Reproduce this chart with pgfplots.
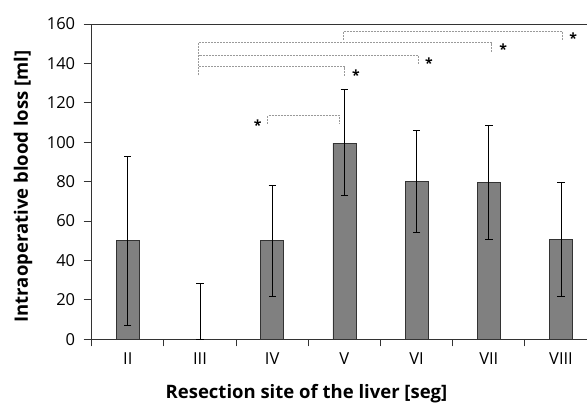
\documentclass[border=0pt]{standalone}
\usepackage{fontspec}
\setmainfont{Open Sans}
\usepackage{pgfplots}
\pgfplotsset{compat=1.18}
\definecolor{barfill}{HTML}{808080}
\definecolor{bardraw}{HTML}{333333}
\definecolor{brk}{HTML}{9A9A9A}

\begin{document}
\begin{tikzpicture}
\useasboundingbox (-91.7pt,-63.7pt) rectangle (495.3pt,339.3pt);
\begin{axis}[
  scale only axis, width=495.3pt, height=315.3pt,
  xmin=-0.5, xmax=6.36, ymin=0, ymax=160,
  axis lines*=left, clip=false,
  axis line style={bardraw, line width=0.9pt},
  ytick={0,20,...,160},
  xtick={0,...,6},
  xticklabels={II,III,IV,V,VI,VII,VIII},
  minor xtick={-0.5,0.5,...,5.5},
  tick align=outside,
  major x tick style={draw=none},
  major tick length=8pt, minor tick length=7pt,
  every tick/.style={bardraw, line width=0.9pt},
  ticklabel style={font=\fontsize{16.5}{19}\selectfont},
  yticklabel style={xshift=-5pt},
  xticklabel style={yshift=-2pt},
  /pgf/number format/assume math mode=true,
  xlabel={Resection site of the liver [seg]},
  ylabel={Intraoperative blood loss [ml]},
  label style={font=\fontsize{18.5}{22}\selectfont\bfseries},
  xlabel style={at={([yshift=-59.7pt]rel axis cs:0.4337,0)}, anchor=base},
  ylabel style={at={([xshift=-63.7pt]rel axis cs:0,0.4846)}, anchor=base},
]
  \addplot[ybar, bar width=23pt, fill=barfill, draw=bardraw, line width=0.8pt,
    error bars/.cd, y dir=both, y explicit,
    error bar style={black, line width=0.8pt},
    error mark options={rotate=90, mark size=3.7pt, line width=0.8pt}]
  coordinates {
    (0,50.3) += (0,42.6) -= (0,43.4)
    (1,0)    += (0,28.2) -= (0,0)
    (2,50.3) += (0,27.6) -= (0,28.3)
    (3,99.5) += (0,27.1) -= (0,26.4)
    (4,80.0) += (0,26.0) -= (0,25.9)
    (5,79.7) += (0,29.0) -= (0,28.9)
    (6,50.8) += (0,28.9) -= (0,28.8)
  };
  % top frame line
  \draw[bardraw, line width=0.9pt] (rel axis cs:0,1) -- (rel axis cs:1,1);
  % significance brackets
  \begin{scope}[brk, line width=0.8pt, dash pattern=on 2pt off 1pt]
    \draw (axis cs:1.94,109.4) |- (axis cs:2.93,113.6) -- (axis cs:2.93,109.6);
    \draw (axis cs:0.98,134) |- (axis cs:3.00,138.3) -- (axis cs:3.00,133.7);
    \draw (axis cs:0.98,134) |- (axis cs:4.02,144.0) -- (axis cs:4.02,139.8);
    \draw (axis cs:0.98,134) |- (axis cs:5.04,150.5) -- (axis cs:5.04,146.0);
    \draw (axis cs:2.98,152) |- (axis cs:6.02,156.2) -- (axis cs:6.02,152.0);
  \end{scope}
  \begin{scope}[every node/.style={anchor=base, yshift=-8pt, inner sep=0pt,
      font=\fontsize{14}{16}\selectfont\bfseries}]
    \node at (axis cs:1.80,109.8) {*};
    \node at (axis cs:3.16,135.2) {*};
    \node at (axis cs:4.17,141.5) {*};
    \node at (axis cs:5.20,148.5) {*};
    \node at (axis cs:6.17,154.0) {*};
  \end{scope}
\end{axis}
\end{tikzpicture}
\end{document}
